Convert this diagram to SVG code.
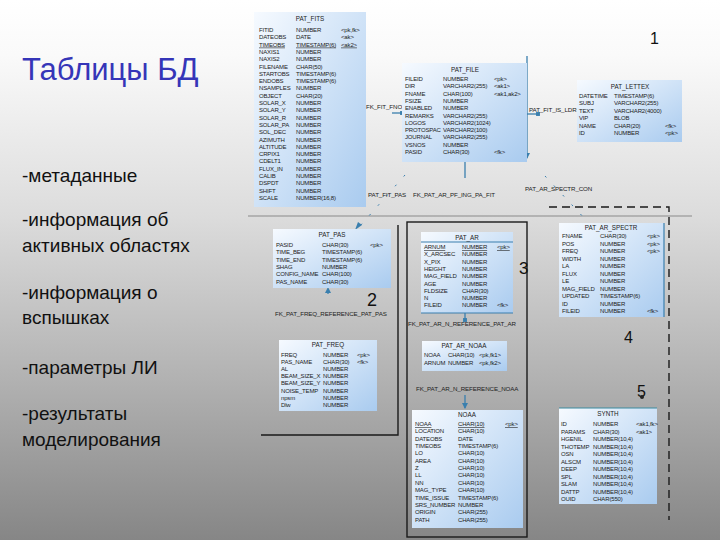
<svg xmlns="http://www.w3.org/2000/svg" width="720" height="540" viewBox="0 0 720 540">
<defs>
<linearGradient id="bg" x1="0" y1="0" x2="0" y2="1">
<stop offset="0" stop-color="#ffffff"/>
<stop offset="0.1" stop-color="#fafafa"/>
<stop offset="0.4" stop-color="#dcdcdc"/>
<stop offset="0.7" stop-color="#b2b2b2"/>
<stop offset="1" stop-color="#868686"/>
</linearGradient>
<linearGradient id="tg" x1="0" y1="0" x2="1" y2="1">
<stop offset="0" stop-color="#f6faff"/>
<stop offset="1" stop-color="#a9cbef"/>
</linearGradient>
<marker id="arr" viewBox="0 0 6 6" refX="5" refY="3" markerWidth="5" markerHeight="5" orient="auto">
<path d="M0,0 L6,3 L0,6 z" fill="#3a7fae"/>
</marker>
<marker id="sq" viewBox="0 0 4 4" refX="2" refY="2" markerWidth="3" markerHeight="3" orient="auto">
<rect x="0" y="0" width="4" height="4" fill="#3a7fae"/>
</marker>
</defs>
<style>
.tbl{fill:url(#tg);stroke:none}
.tt{font-family:"Liberation Sans",Arial,sans-serif;font-size:6.3px;fill:#222;text-anchor:middle}
.c{font-family:"Liberation Sans",Arial,sans-serif;font-size:6px;letter-spacing:-0.15px;fill:#222}
.u{text-decoration:underline}
.lbl{font-family:"Liberation Sans",Arial,sans-serif;font-size:6.2px;letter-spacing:-0.1px;fill:#222}
.num{font-family:"Liberation Sans",Arial,sans-serif;fill:#111}
.side{font-family:"Liberation Sans",Arial,sans-serif;font-size:19px;fill:#111}
.cn{stroke:#3a7fae;stroke-width:1.3;fill:none}
.dt{stroke:#3a7fae;stroke-width:1;fill:none;stroke-dasharray:2 11}
.reg{stroke:#1a1a1a;stroke-width:1.4;fill:none}
.edge{stroke:#3a7fae;stroke-width:1.2}
</style>
<rect width="720" height="540" fill="url(#bg)"/>

<g id="slide-text">
<text x="22" y="80" font-family="Liberation Sans, Arial, sans-serif" font-size="31" fill="#3535b8">Таблицы БД</text>
<text class="side" x="22" y="182">-метаданные</text>
<text class="side" x="22" y="226">-информация об</text>
<text class="side" x="22" y="252">активных областях</text>
<text class="side" x="22" y="299">-информация о</text>
<text class="side" x="22" y="324">вспышках</text>
<text class="side" x="22" y="374">-параметры ЛИ</text>
<text class="side" x="22" y="420">-результаты</text>
<text class="side" x="22" y="446">моделирования</text>
</g>

<g id="regions">
<line x1="248" y1="216" x2="692" y2="216" stroke="#8a8a8a" stroke-width="1"/>
<polyline class="reg" points="398,225 398,435 261,435"/>
<rect class="reg" x="407" y="222" width="120" height="315"/>
<polyline class="reg" points="549,207 669,207 669,520" stroke-dasharray="8 5"/>
<text class="num" x="650" y="44" font-size="16">1</text>
<text class="num" x="367" y="306" font-size="18">2</text>
<text class="num" x="519" y="274" font-size="17">3</text>
<text class="num" x="624" y="343" font-size="16">4</text>
<text class="num" x="637" y="397" font-size="16">5</text>
</g>

<g id="connectors">
<line class="cn" x1="392" y1="113" x2="402" y2="113" marker-end="url(#sq)"/>
<line class="cn" x1="527" y1="56" x2="527" y2="158" marker-end="url(#arr)"/>
<line class="cn" x1="527" y1="114" x2="538" y2="114" marker-end="url(#sq)"/>
<line class="cn" x1="465" y1="162" x2="465" y2="178"/>
<path class="dt" d="M405,175 L360,226"/>
<path d="M355,230 L358,222 L362,225 z" fill="#3a7fae"/>
<path class="dt" d="M545,176 L586,220"/>
<line class="cn" x1="328" y1="289" x2="328" y2="294"/>
<path d="M325,293 L328,287 L331,293 z" fill="#3a7fae"/>
<line class="cn" x1="465" y1="313" x2="465" y2="320" marker-end="url(#sq)"/>
<line class="cn" x1="465" y1="395" x2="465" y2="408" marker-end="url(#arr)"/>
<circle cx="642" cy="397" r="2" fill="#222"/>
<text class="lbl" x="366" y="109">FK_FIT_FNO</text>
<text class="lbl" x="529" y="112">PAT_FIT_IS_LDR</text>
<text class="lbl" x="368" y="197">PAT_FIT_PAS</text>
<text class="lbl" x="413" y="197">FK_PAT_AR_PF_ING_PA_FIT</text>
<text class="lbl" x="525" y="191">PAT_AR_SPECTR_CON</text>
<text class="lbl" x="275" y="316">FK_PAT_FREQ_REFERENCE_PAT_PAS</text>
<text class="lbl" x="408" y="326">FK_PAT_AR_N_REFERENCE_PAT_AR</text>
<text class="lbl" x="416" y="391">FK_PAT_AR_N_REFERENCE_NOAA</text>
</g>

<g id="pat_fits">
<rect class="tbl" x="254" y="12" width="112" height="195"/>
<text class="tt" x="310" y="21">PAT_FITS</text>
<text class="c" y="32"><tspan x="259">FITID</tspan><tspan x="296">NUMBER</tspan><tspan x="341">&lt;pk,fk&gt;</tspan></text>
<text class="c" y="39.3"><tspan x="259">DATEOBS</tspan><tspan x="296">DATE</tspan><tspan x="341">&lt;ak&gt;</tspan></text>
<text class="c u" y="46.6"><tspan x="259">TIMEOBS</tspan><tspan x="296">TIMESTAMP(6)</tspan><tspan x="341">&lt;ak2&gt;</tspan></text>
<text class="c" y="53.9"><tspan x="259">NAXIS1</tspan><tspan x="296">NUMBER</tspan></text>
<text class="c" y="61.2"><tspan x="259">NAXIS2</tspan><tspan x="296">NUMBER</tspan></text>
<text class="c" y="68.5"><tspan x="259">FILENAME</tspan><tspan x="296">CHAR(50)</tspan></text>
<text class="c" y="75.8"><tspan x="259">STARTOBS</tspan><tspan x="296">TIMESTAMP(6)</tspan></text>
<text class="c" y="83.1"><tspan x="259">ENDOBS</tspan><tspan x="296">TIMESTAMP(6)</tspan></text>
<text class="c" y="90.4"><tspan x="259">NSAMPLES</tspan><tspan x="296">NUMBER</tspan></text>
<text class="c" y="97.7"><tspan x="259">OBJECT</tspan><tspan x="296">CHAR(20)</tspan></text>
<text class="c" y="105"><tspan x="259">SOLAR_X</tspan><tspan x="296">NUMBER</tspan></text>
<text class="c" y="112.3"><tspan x="259">SOLAR_Y</tspan><tspan x="296">NUMBER</tspan></text>
<text class="c" y="119.6"><tspan x="259">SOLAR_R</tspan><tspan x="296">NUMBER</tspan></text>
<text class="c" y="126.9"><tspan x="259">SOLAR_PA</tspan><tspan x="296">NUMBER</tspan></text>
<text class="c" y="134.2"><tspan x="259">SOL_DEC</tspan><tspan x="296">NUMBER</tspan></text>
<text class="c" y="141.5"><tspan x="259">AZIMUTH</tspan><tspan x="296">NUMBER</tspan></text>
<text class="c" y="148.8"><tspan x="259">ALTITUDE</tspan><tspan x="296">NUMBER</tspan></text>
<text class="c" y="156.1"><tspan x="259">CRPIX1</tspan><tspan x="296">NUMBER</tspan></text>
<text class="c" y="163.4"><tspan x="259">CDELT1</tspan><tspan x="296">NUMBER</tspan></text>
<text class="c" y="170.7"><tspan x="259">FLUX_IN</tspan><tspan x="296">NUMBER</tspan></text>
<text class="c" y="178"><tspan x="259">CALIB</tspan><tspan x="296">NUMBER</tspan></text>
<text class="c" y="185.3"><tspan x="259">DSPDT</tspan><tspan x="296">NUMBER</tspan></text>
<text class="c" y="192.6"><tspan x="259">SHIFT</tspan><tspan x="296">NUMBER</tspan></text>
<text class="c" y="199.9"><tspan x="259">SCALE</tspan><tspan x="296">NUMBER(16,8)</tspan></text>
</g>

<g id="pat_file">
<rect class="tbl" x="402" y="63" width="125" height="99"/>
<text class="tt" x="465" y="72">PAT_FILE</text>
<text class="c" y="81"><tspan x="405">FILEID</tspan><tspan x="443">NUMBER</tspan><tspan x="494">&lt;pk&gt;</tspan></text>
<text class="c" y="88.3"><tspan x="405">DIR</tspan><tspan x="443">VARCHAR2(255)</tspan><tspan x="494">&lt;ak1&gt;</tspan></text>
<text class="c" y="95.6"><tspan x="405">FNAME</tspan><tspan x="443">CHAR(100)</tspan><tspan x="494">&lt;ak1,ak2&gt;</tspan></text>
<text class="c" y="102.9"><tspan x="405">FSIZE</tspan><tspan x="443">NUMBER</tspan></text>
<text class="c" y="110.2"><tspan x="405">ENABLED</tspan><tspan x="443">NUMBER</tspan></text>
<text class="c" y="117.5"><tspan x="405">REMARKS</tspan><tspan x="443">VARCHAR2(255)</tspan></text>
<text class="c" y="124.8"><tspan x="405">LOGOS</tspan><tspan x="443">VARCHAR2(1024)</tspan></text>
<text class="c" y="132.1"><tspan x="405">PROTOSPAC</tspan><tspan x="443">VARCHAR2(100)</tspan></text>
<text class="c" y="139.4"><tspan x="405">JOURNAL</tspan><tspan x="443">VARCHAR2(255)</tspan></text>
<text class="c" y="146.7"><tspan x="405">VSNOS</tspan><tspan x="443">NUMBER</tspan></text>
<text class="c" y="154"><tspan x="405">PASID</tspan><tspan x="443">CHAR(30)</tspan><tspan x="494">&lt;fk&gt;</tspan></text>
</g>

<g id="pat_lettex">
<rect class="tbl" x="577" y="80" width="105" height="62"/>
<text class="tt" x="630" y="89">PAT_LETTEX</text>
<text class="c" y="98"><tspan x="579">DATETIME</tspan><tspan x="614">TIMESTAMP(6)</tspan></text>
<text class="c" y="105.4"><tspan x="579">SUBJ</tspan><tspan x="614">VARCHAR2(255)</tspan></text>
<text class="c" y="112.8"><tspan x="579">TEXT</tspan><tspan x="614">VARCHAR2(4000)</tspan></text>
<text class="c" y="120.2"><tspan x="579">VIP</tspan><tspan x="614">BLOB</tspan></text>
<text class="c" y="127.6"><tspan x="579">NAME</tspan><tspan x="614">CHAR(20)</tspan><tspan x="665">&lt;fk&gt;</tspan></text>
<text class="c" y="135"><tspan x="579">ID</tspan><tspan x="614">NUMBER</tspan><tspan x="665">&lt;pk&gt;</tspan></text>
</g>

<g id="pat_pas">
<rect class="tbl" x="273" y="229" width="118" height="59"/>
<text class="tt" x="332" y="237">PAT_PAS</text>
<text class="c" y="247"><tspan x="276">PASID</tspan><tspan x="322">CHAR(30)</tspan><tspan x="370">&lt;pk&gt;</tspan></text>
<text class="c" y="254.3"><tspan x="276">TIME_BEG</tspan><tspan x="322">TIMESTAMP(6)</tspan></text>
<text class="c" y="261.6"><tspan x="276">TIME_END</tspan><tspan x="322">TIMESTAMP(6)</tspan></text>
<text class="c" y="268.9"><tspan x="276">SHAG</tspan><tspan x="322">NUMBER</tspan></text>
<text class="c" y="276.2"><tspan x="276">CONFIG_NAME</tspan><tspan x="322">CHAR(100)</tspan></text>
<text class="c" y="283.5"><tspan x="276">PAS_NAME</tspan><tspan x="322">CHAR(30)</tspan></text>
</g>

<g id="pat_freq">
<rect class="tbl" x="279" y="340" width="98" height="71"/>
<text class="tt" x="328" y="347">PAT_FREQ</text>
<text class="c" y="357"><tspan x="281">FREQ</tspan><tspan x="323">NUMBER</tspan><tspan x="357">&lt;pk&gt;</tspan></text>
<text class="c" y="364.1"><tspan x="281">PAS_NAME</tspan><tspan x="323">CHAR(30)</tspan><tspan x="357">&lt;fk&gt;</tspan></text>
<text class="c" y="371.2"><tspan x="281">AL</tspan><tspan x="323">NUMBER</tspan></text>
<text class="c" y="378.3"><tspan x="281">BEAM_SIZE_X</tspan><tspan x="323">NUMBER</tspan></text>
<text class="c" y="385.4"><tspan x="281">BEAM_SIZE_Y</tspan><tspan x="323">NUMBER</tspan></text>
<text class="c" y="392.5"><tspan x="281">NOISE_TEMP</tspan><tspan x="323">NUMBER</tspan></text>
<text class="c" y="399.6"><tspan x="281">npsm</tspan><tspan x="323">NUMBER</tspan></text>
<text class="c" y="406.7"><tspan x="281">Dlw</tspan><tspan x="323">NUMBER</tspan></text>
</g>

<g id="pat_ar">
<rect class="tbl" x="421" y="232" width="92" height="81"/>
<line class="edge" x1="421" y1="242" x2="513" y2="242"/>
<line class="edge" x1="421" y1="313" x2="513" y2="313"/>
<text class="tt" x="467" y="239.5">PAT_AR</text>
<text class="c u" y="249"><tspan x="424">ARNUM</tspan><tspan x="462">NUMBER</tspan><tspan x="497">&lt;pk&gt;</tspan></text>
<text class="c" y="256.3"><tspan x="424">X_ARCSEC</tspan><tspan x="462">NUMBER</tspan></text>
<text class="c" y="263.6"><tspan x="424">X_PIX</tspan><tspan x="462">NUMBER</tspan></text>
<text class="c" y="270.9"><tspan x="424">HEIGHT</tspan><tspan x="462">NUMBER</tspan></text>
<text class="c" y="278.2"><tspan x="424">MAG_FIELD</tspan><tspan x="462">NUMBER</tspan></text>
<text class="c" y="285.5"><tspan x="424">AGE</tspan><tspan x="462">NUMBER</tspan></text>
<text class="c" y="292.8"><tspan x="424">FLDSIZE</tspan><tspan x="462">CHAR(30)</tspan></text>
<text class="c" y="300.1"><tspan x="424">N</tspan><tspan x="462">NUMBER</tspan></text>
<text class="c" y="307.4"><tspan x="424">FILEID</tspan><tspan x="462">NUMBER</tspan><tspan x="497">&lt;fk&gt;</tspan></text>
</g>

<g id="pat_ar_noaa">
<rect class="tbl" x="422" y="341" width="85" height="30"/>
<text class="tt" x="464" y="348">PAT_AR_NOAA</text>
<text class="c" y="357"><tspan x="424">NOAA</tspan><tspan x="448">CHAR(10)</tspan><tspan x="479">&lt;pk,fk1&gt;</tspan></text>
<text class="c" y="365"><tspan x="424">ARNUM</tspan><tspan x="448">NUMBER</tspan><tspan x="479">&lt;pk,fk2&gt;</tspan></text>
</g>

<g id="noaa">
<rect class="tbl" x="412" y="410" width="111" height="118"/>
<text class="tt" x="467" y="417">NOAA</text>
<text class="c u" y="426"><tspan x="415">NOAA</tspan><tspan x="458">CHAR(10)</tspan><tspan x="505">&lt;pk&gt;</tspan></text>
<text class="c" y="433.35"><tspan x="415">LOCATION</tspan><tspan x="458">CHAR(10)</tspan></text>
<text class="c" y="440.7"><tspan x="415">DATEOBS</tspan><tspan x="458">DATE</tspan></text>
<text class="c" y="448.05"><tspan x="415">TIMEOBS</tspan><tspan x="458">TIMESTAMP(6)</tspan></text>
<text class="c" y="455.4"><tspan x="415">LO</tspan><tspan x="458">CHAR(10)</tspan></text>
<text class="c" y="462.75"><tspan x="415">AREA</tspan><tspan x="458">CHAR(10)</tspan></text>
<text class="c" y="470.1"><tspan x="415">Z</tspan><tspan x="458">CHAR(10)</tspan></text>
<text class="c" y="477.45"><tspan x="415">LL</tspan><tspan x="458">CHAR(10)</tspan></text>
<text class="c" y="484.8"><tspan x="415">NN</tspan><tspan x="458">CHAR(10)</tspan></text>
<text class="c" y="492.15"><tspan x="415">MAG_TYPE</tspan><tspan x="458">CHAR(10)</tspan></text>
<text class="c" y="499.5"><tspan x="415">TIME_ISSUE</tspan><tspan x="458">TIMESTAMP(6)</tspan></text>
<text class="c" y="506.85"><tspan x="415">SRS_NUMBER</tspan><tspan x="458">NUMBER</tspan></text>
<text class="c" y="514.2"><tspan x="415">ORIGIN</tspan><tspan x="458">CHAR(255)</tspan></text>
<text class="c" y="521.55"><tspan x="415">PATH</tspan><tspan x="458">CHAR(255)</tspan></text>
</g>

<g id="pat_ar_spectr">
<rect class="tbl" x="559" y="223" width="105" height="94"/>
<line class="edge" x1="664" y1="223" x2="664" y2="317"/>
<text class="tt" x="611" y="230">PAT_AR_SPECTR</text>
<text class="c" y="238"><tspan x="562">FNAME</tspan><tspan x="600">CHAR(30)</tspan><tspan x="647">&lt;pk&gt;</tspan></text>
<text class="c" y="245.5"><tspan x="562">POS</tspan><tspan x="600">NUMBER</tspan><tspan x="647">&lt;pk&gt;</tspan></text>
<text class="c" y="253"><tspan x="562">FREQ</tspan><tspan x="600">NUMBER</tspan><tspan x="647">&lt;pk&gt;</tspan></text>
<text class="c" y="260.5"><tspan x="562">WIDTH</tspan><tspan x="600">NUMBER</tspan></text>
<text class="c" y="268"><tspan x="562">LA</tspan><tspan x="600">NUMBER</tspan></text>
<text class="c" y="275.5"><tspan x="562">FLUX</tspan><tspan x="600">NUMBER</tspan></text>
<text class="c" y="283"><tspan x="562">LE</tspan><tspan x="600">NUMBER</tspan></text>
<text class="c" y="290.5"><tspan x="562">MAG_FIELD</tspan><tspan x="600">NUMBER</tspan></text>
<text class="c" y="298"><tspan x="562">UPDATED</tspan><tspan x="600">TIMESTAMP(6)</tspan></text>
<text class="c" y="305.5"><tspan x="562">ID</tspan><tspan x="600">NUMBER</tspan></text>
<text class="c" y="313"><tspan x="562">FILEID</tspan><tspan x="600">NUMBER</tspan><tspan x="647">&lt;fk&gt;</tspan></text>
</g>

<g id="synth">
<rect class="tbl" x="559" y="408" width="98" height="96"/>
<line x1="559" y1="408" x2="657" y2="408" stroke="#3a8a9e" stroke-width="1.2"/>
<text class="tt" x="608" y="416">SYNTH</text>
<text class="c" y="426"><tspan x="561">ID</tspan><tspan x="593">NUMBER</tspan><tspan x="636">&lt;ak1,fk&gt;</tspan></text>
<text class="c" y="433.5"><tspan x="561">PARAMS</tspan><tspan x="593">CHAR(30)</tspan><tspan x="636">&lt;ak1&gt;</tspan></text>
<text class="c" y="441"><tspan x="561">HGENIL</tspan><tspan x="593">NUMBER(10,4)</tspan></text>
<text class="c" y="448.5"><tspan x="561">THOTEMP</tspan><tspan x="593">NUMBER(10,4)</tspan></text>
<text class="c" y="456"><tspan x="561">OSN</tspan><tspan x="593">NUMBER(10,4)</tspan></text>
<text class="c" y="463.5"><tspan x="561">ALSCM</tspan><tspan x="593">NUMBER(10,4)</tspan></text>
<text class="c" y="471"><tspan x="561">DEEP</tspan><tspan x="593">NUMBER(10,4)</tspan></text>
<text class="c" y="478.5"><tspan x="561">SPL</tspan><tspan x="593">NUMBER(10,4)</tspan></text>
<text class="c" y="486"><tspan x="561">SLAM</tspan><tspan x="593">NUMBER(10,4)</tspan></text>
<text class="c" y="493.5"><tspan x="561">DATTP</tspan><tspan x="593">NUMBER(10,4)</tspan></text>
<text class="c" y="501"><tspan x="561">OUID</tspan><tspan x="593">CHAR(550)</tspan></text>
</g>
</svg>
